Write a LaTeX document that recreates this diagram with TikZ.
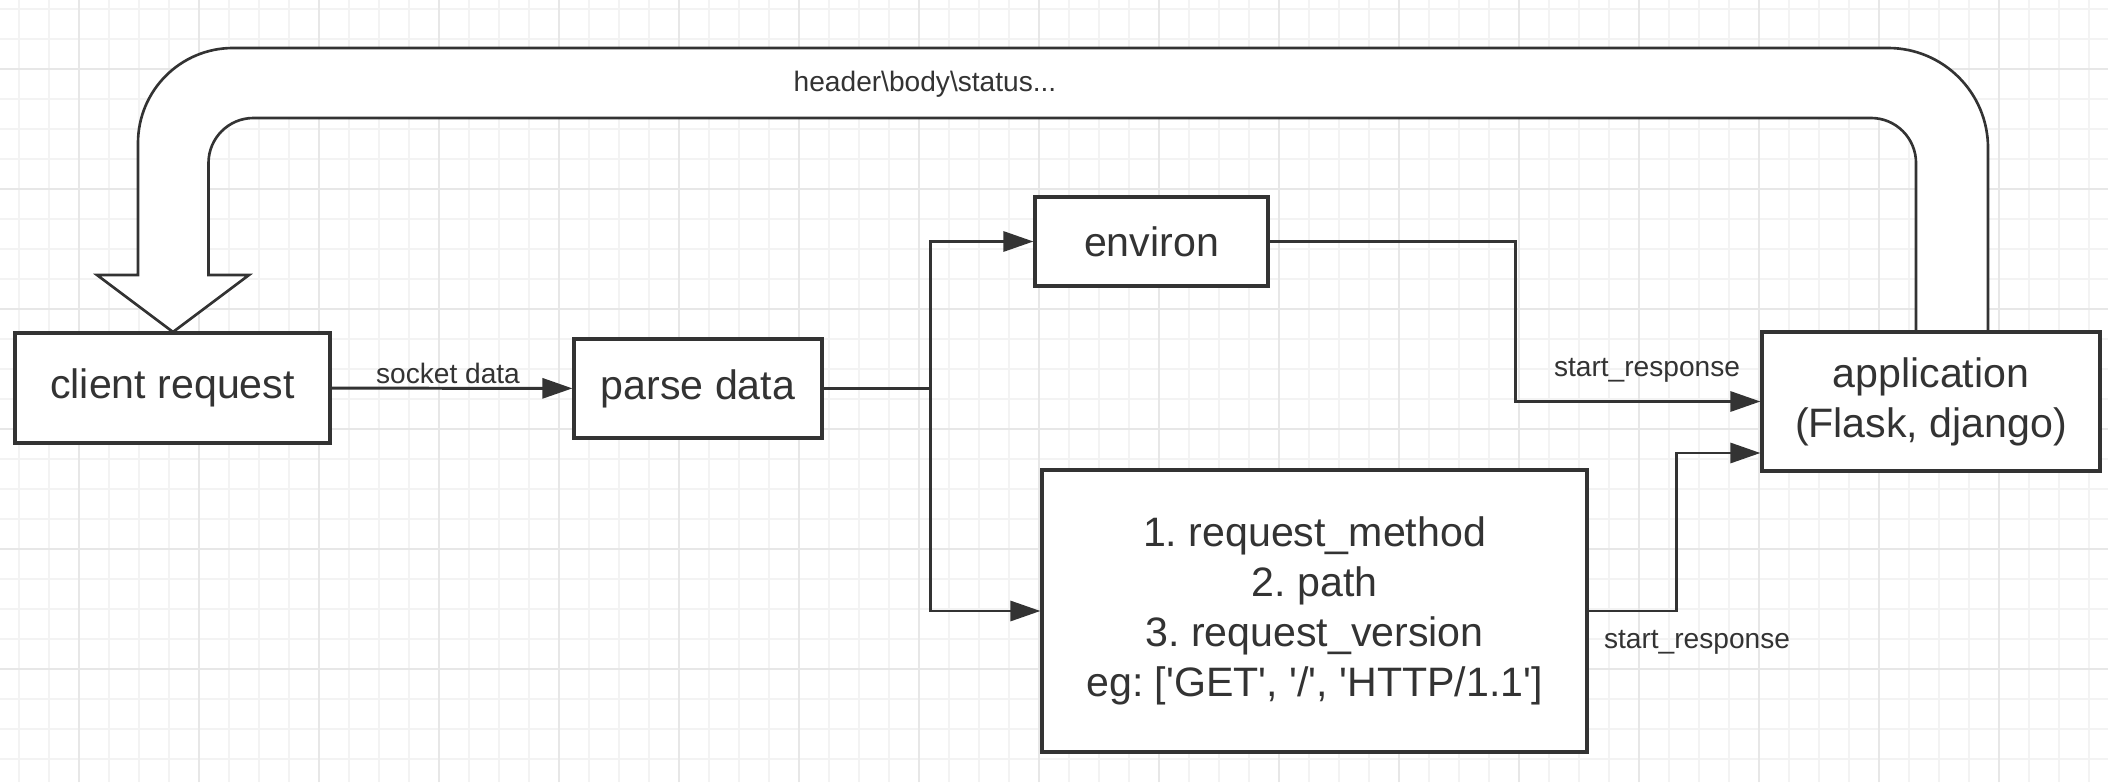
\documentclass[tikz,border=0pt]{standalone}
\usepackage{fontspec}
\setmainfont{Liberation Sans}
\usepackage{tikz}
\usetikzlibrary{arrows.meta}
\definecolor{linegray}{RGB}{51,51,51}
\definecolor{gridminor}{RGB}{243,243,243}
\definecolor{gridmajor}{RGB}{231,231,231}
\newcommand{\sq}{\textquotesingle}
\frenchspacing

\begin{document}
\begin{tikzpicture}[
        box/.style={draw=linegray, line width=0.9pt, fill=white, text=linegray, align=center, inner sep=0pt, font=\fontsize{11.7}{14.2}\selectfont},
        lbl/.style={text=linegray, inner sep=1pt, font=\fontsize{8}{9.6}\selectfont},
        arrow/.style={draw=linegray, line width=0.85pt, -{Triangle[length=0.3cm, width=0.2cm]}},
        bigarrow/.style={draw=linegray, line width=0.75pt, fill=white}
    ]
        % background and grid
        \useasboundingbox (0,0) rectangle (21.08,7.82);
        \fill[white] (0,0) rectangle (21.08,7.82);
        \foreach \gx in {0.19,0.49,...,21.08} \draw[gridminor, line width=0.5pt] (\gx,0) -- (\gx,7.82);
        \foreach \gy in {0.23,0.53,...,7.82} \draw[gridminor, line width=0.5pt] (0,\gy) -- (21.08,\gy);
        \foreach \gx in {0.79,1.99,...,21.08} \draw[gridmajor, line width=0.6pt] (\gx,0) -- (\gx,7.82);
        \foreach \gy in {1.13,2.33,...,7.82} \draw[gridmajor, line width=0.6pt] (0,\gy) -- (21.08,\gy);

        % return path back to the client
        \draw[bigarrow] (19.88,4.50) -- (19.88,6.34) arc[start angle=0, end angle=90, radius=1.0]
            -- (2.33,7.34) arc[start angle=90, end angle=180, radius=0.95]
            -- (1.38,5.07) -- (0.97,5.07) -- (1.73,4.50) -- (2.49,5.07) -- (2.085,5.07)
            -- (2.085,6.19) arc[start angle=180, end angle=90, radius=0.45]
            -- (18.71,6.64) arc[start angle=90, end angle=0, radius=0.45]
            -- (19.16,4.50) -- cycle;
        \node[lbl] (retlbl) at (9.25,6.98) {header\textbackslash body\textbackslash status...};

        \node[box, minimum width=3.15cm, minimum height=1.10cm] (client) at (1.725,3.94) {client request};
        \node[box, minimum width=2.48cm, minimum height=0.99cm] (parse) at (6.98,3.935) {parse data};
        \node[box, minimum width=2.33cm, minimum height=0.89cm] (environ) at (11.515,5.405) {environ};
        \node[box, minimum width=5.45cm, minimum height=2.82cm] (reqinfo) at (13.145,1.71) {1. request\_method\\2. path\\3. request\_version\\eg: [\sq GET\sq, \sq/\sq, \sq HTTP/1.1\sq]};
        \node[box, minimum width=3.38cm, minimum height=1.39cm] (app) at (19.31,3.805) {application\\(Flask, django)};

        \coordinate (fork) at (9.30,3.935);

        \draw[arrow] (client) -- (parse);
        \node[lbl] (socketlbl) at (4.48,4.09) {socket data};
        \draw[arrow] (parse.east) -- (fork) |- (environ.west);
        \draw[arrow] (fork) |- (reqinfo.west);
        \draw[arrow] (environ.east) -- ++(2.46,0) |- (app.west);
        \node[lbl] (startlbl1) at (16.47,4.12) {start\_response};
        \draw[arrow] (reqinfo.east) -- ++(0.88,0) |- ([yshift=-0.515cm]app.west);
        \node[lbl] (startlbl2) at (16.97,1.40) {start\_response};
    \end{tikzpicture}
\end{document}
